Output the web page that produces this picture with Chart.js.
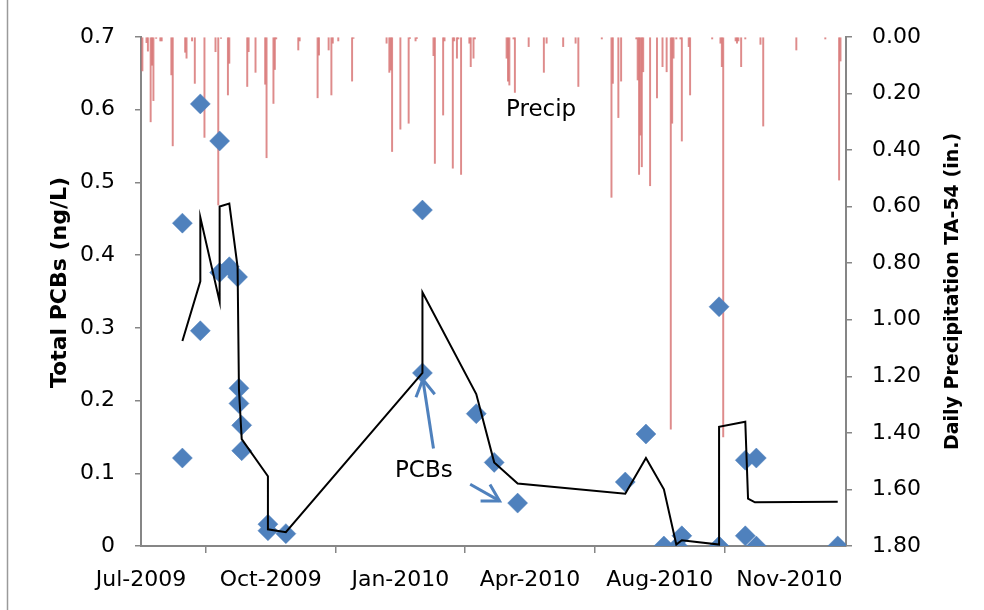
<!DOCTYPE html>
<html><head><meta charset="utf-8">
<script src="https://cdn.jsdelivr.net/npm/chart.js@4.4.1/dist/chart.umd.min.js"></script>
<style>html,body{margin:0;padding:0;background:#fff;}#wrap{width:984px;height:610px;position:relative;}</style>
</head><body><div id="wrap"><canvas id="c" width="984" height="610"></canvas></div>
<script>
// ---- data (x values are days after 22 Jul 2009) ----
const xTickLabels = ["Jul-2009", "Oct-2009", "Jan-2010", "Apr-2010", "Aug-2010", "Nov-2010"];
const tickStepDays = 94;
const axisEndDay = 511;
const pcbTicks = [0, 0.1, 0.2, 0.3, 0.4, 0.5, 0.6, 0.7];
const precipTicks = [0, 0.2, 0.4, 0.6, 0.8, 1.0, 1.2, 1.4, 1.6, 1.8];

const pcbDays = [30, 30, 43, 43, 57, 57, 64, 70, 71, 71, 73, 73, 92, 92, 105, 204, 204, 243, 256, 273, 351, 366, 379, 389, 392, 419, 419, 438, 438, 446, 446, 505];
const pcbValues = [0.444, 0.121, 0.608, 0.296, 0.557, 0.376, 0.384, 0.370, 0.217, 0.196, 0.166, 0.131, 0.030, 0.021, 0.017, 0.462, 0.238, 0.182, 0.115, 0.059, 0.088, 0.154, 0.0, 0.0, 0.014, 0.0, 0.329, 0.014, 0.118, 0.121, 0.0, 0.0];

const trendDays = [30, 43, 43, 57, 57, 64, 70, 71, 73, 92, 92, 105, 204, 204, 243, 256, 273, 351, 366, 379, 388, 392, 419, 419, 438, 440, 445, 505];
const trendValues = [0.282, 0.364, 0.452, 0.336, 0.467, 0.471, 0.384, 0.215, 0.147, 0.096, 0.023, 0.019, 0.238, 0.349, 0.209, 0.115, 0.086, 0.072, 0.121, 0.078, 0.002, 0.008, 0.002, 0.164, 0.171, 0.065, 0.060, 0.061];

const precipDays = [1, 4, 5, 7, 8, 9, 11, 14, 15, 22, 23, 32, 33, 37, 39, 46, 54, 56, 58, 63, 64, 77, 78, 83, 90, 91, 96, 97, 98, 114, 115, 128, 129,
  136, 138, 139, 143, 153, 154, 178, 180, 181, 182, 188, 194, 195, 199, 200, 212, 213, 219, 220, 226, 227, 229, 230, 232, 238, 239, 241, 242,
  265, 266, 267, 270, 271, 281, 292, 294, 306, 315, 317, 334, 341, 342, 346, 348, 359, 360, 361, 362, 363, 364, 369, 374, 378, 381, 384, 385, 386, 388,
  391, 392, 397, 398, 414, 420, 421, 422, 431, 432, 433, 435, 438, 449, 451, 475, 496, 506, 507];
const precipInches = [0.12, 0.02, 0.05, 0.30, 0.10, 0.225, 0.005, 0.014, 0.014, 0.134, 0.385, 0.054, 0.075, 0.014, 0.164, 0.355, 0.052, 0.594, 0.005, 0.205, 0.093, 0.175, 0.052, 0.125, 0.167, 0.427, 0.235, 0.115, 0.007, 0.046, 0.014, 0.215, 0.064,
  0.046, 0.205, 0.022, 0.014, 0.156, 0.005, 0.022, 0.125, 0.117, 0.405, 0.326, 0.305, 0.005, 0.014, 0.005, 0.066, 0.447, 0.276, 0.014, 0.464, 0.014, 0.075, 0.007, 0.486, 0.022, 0.105, 0.075, 0.007,
  0.075, 0.156, 0.170, 0.007, 0.196, 0.034, 0.125, 0.022, 0.034, 0.022, 0.175, 0.007, 0.567, 0.164, 0.285, 0.156, 0.007, 0.152, 0.486, 0.347, 0.459, 0.123, 0.526, 0.215, 0.105, 0.123, 1.387, 0.305, 0.075, 0.007,
  0.007, 0.368, 0.034, 0.205, 0.007, 0.022, 0.105, 1.414, 0.014, 0.022, 0.014, 0.105, 0.007, 0.026, 0.315, 0.046, 0.007, 0.506, 0.085];

// annotation anchors (data space)
const precipNote = {day: 290, value: 0.600, text: "Precip"};
const pcbNote = {day: 205, value: 0.1025, text: "PCBs"};
const pcbArrows = [
  {fromDay: 212.0, fromValue: 0.134, toDay: 204.3, toValue: 0.229},
  {fromDay: 238.6, fromValue: 0.085, toDay: 259.9, toValue: 0.062}
];
const leftTitle = "Total PCBs (ng/L)";
const rightTitle = "Daily Precipitation TA-54 (in.)";

// ---- styling ----
const FONT = "DejaVu Sans";
const AXIS_GRAY = "#868686";
const PCB_BLUE = "#4f81bd";
Chart.defaults.font.family = FONT;
Chart.defaults.color = "#000";

const zip = (xs, ys) => xs.map((x, i) => ({x: x, y: ys[i]}));

function verticalText(ctx, text, font, cx, cy) {
  ctx.save();
  ctx.font = font;
  ctx.fillStyle = "#000";
  ctx.textAlign = "center";
  ctx.textBaseline = "middle";
  ctx.translate(cx, cy);
  ctx.rotate(-Math.PI / 2);
  ctx.fillText(text, 0, 0);
  ctx.restore();
}

const overlay = {
  id: "overlay",
  afterDatasetsDraw(chart) {
    const {ctx, scales} = chart;
    const x = scales.x, y = scales.y;
    ctx.save();
    ctx.fillStyle = "#000";
    ctx.font = "23px '" + FONT + "'";
    ctx.textAlign = "center";
    ctx.textBaseline = "middle";
    [precipNote, pcbNote].forEach(n => ctx.fillText(n.text, x.getPixelForValue(n.day), y.getPixelForValue(n.value)));
    ctx.strokeStyle = PCB_BLUE;
    ctx.lineWidth = 3;
    pcbArrows.forEach(a => {
      const x0 = x.getPixelForValue(a.fromDay), y0 = y.getPixelForValue(a.fromValue);
      const x1 = x.getPixelForValue(a.toDay), y1 = y.getPixelForValue(a.toValue);
      const ang = Math.atan2(y1 - y0, x1 - x0);
      ctx.beginPath();
      ctx.moveTo(x0, y0); ctx.lineTo(x1, y1);
      ctx.stroke();
      const L = 19, spread = Math.PI / 6;
      ctx.beginPath();
      ctx.moveTo(x1 - L * Math.cos(ang - spread), y1 - L * Math.sin(ang - spread));
      ctx.lineTo(x1, y1);
      ctx.lineTo(x1 - L * Math.cos(ang + spread), y1 - L * Math.sin(ang + spread));
      ctx.stroke();
    });
    ctx.restore();
  },
  afterDraw(chart) {
    const {ctx, chartArea} = chart;
    const midY = (chartArea.top + chartArea.bottom) / 2;
    verticalText(ctx, leftTitle, "bold 22px '" + FONT + "'", chartArea.left - 81, midY - 9);
    verticalText(ctx, rightTitle, "bold 19px '" + FONT + "'", chartArea.right + 107, midY);
    ctx.save();
    ctx.strokeStyle = "#9a9a9a";
    ctx.lineWidth = 1.5;
    ctx.beginPath();
    ctx.moveTo(7.5, 0); ctx.lineTo(7.5, chart.height);
    ctx.stroke();
    ctx.restore();
  }
};

new Chart(document.getElementById("c"), {
  type: "scatter",
  data: {
    datasets: [
      {
        type: "line", label: "Trend", data: zip(trendDays, trendValues),
        borderColor: "#000", borderWidth: 2, pointRadius: 0, tension: 0, fill: false,
        yAxisID: "y", order: 0
      },
      {
        type: "scatter", label: "PCBs", data: zip(pcbDays, pcbValues),
        pointStyle: "rectRot", pointRadius: 10, backgroundColor: PCB_BLUE, borderColor: PCB_BLUE, borderWidth: 0.5,
        yAxisID: "y", order: 1
      },
      {
        type: "bar", label: "Precip", data: zip(precipDays, precipInches),
        backgroundColor: "rgba(214,110,110,0.8)", borderWidth: 0, barThickness: 1.3,
        yAxisID: "y2", order: 2
      }
    ]
  },
  options: {
    responsive: false, animation: false, devicePixelRatio: 1,
    layout: {padding: {top: 37, left: 0, right: 0, bottom: 0}},
    plugins: {legend: {display: false}, tooltip: {enabled: false}},
    scales: {
      x: {
        type: "linear", position: "bottom", min: 0, max: axisEndDay, offset: false,
        afterBuildTicks: s => { s.ticks = xTickLabels.map((_, i) => ({value: i * tickStepDays})); },
        afterFit: s => { s.height = 64; },
        ticks: {callback: (v, i) => xTickLabels[i], font: {size: 22}, color: "#000", padding: 14, maxRotation: 0, autoSkip: false},
        grid: {drawOnChartArea: false, drawTicks: true, tickLength: 7, color: AXIS_GRAY, lineWidth: 1.5},
        border: {color: AXIS_GRAY, width: 2}
      },
      y: {
        type: "linear", position: "left", min: 0, max: 0.7,
        afterBuildTicks: s => { s.ticks = pcbTicks.map(v => ({value: v})); },
        afterFit: s => { s.width = 141; },
        ticks: {callback: v => String(Math.round(v * 10) / 10), font: {size: 22}, color: "#000", padding: 20},
        grid: {drawOnChartArea: false, drawTicks: true, tickLength: 6, color: AXIS_GRAY, lineWidth: 1.5},
        border: {color: AXIS_GRAY, width: 2}
      },
      y2: {
        type: "linear", position: "right", min: 0, max: 1.8, reverse: true,
        afterBuildTicks: s => { s.ticks = precipTicks.map(v => ({value: v})); },
        afterFit: s => { s.width = 138; },
        ticks: {callback: v => v.toFixed(2), font: {size: 22}, color: "#000", padding: 20},
        grid: {drawOnChartArea: false, drawTicks: true, tickLength: 6, color: AXIS_GRAY, lineWidth: 1.5},
        border: {color: AXIS_GRAY, width: 2}
      }
    }
  },
  plugins: [overlay]
});
</script>
</body></html>
